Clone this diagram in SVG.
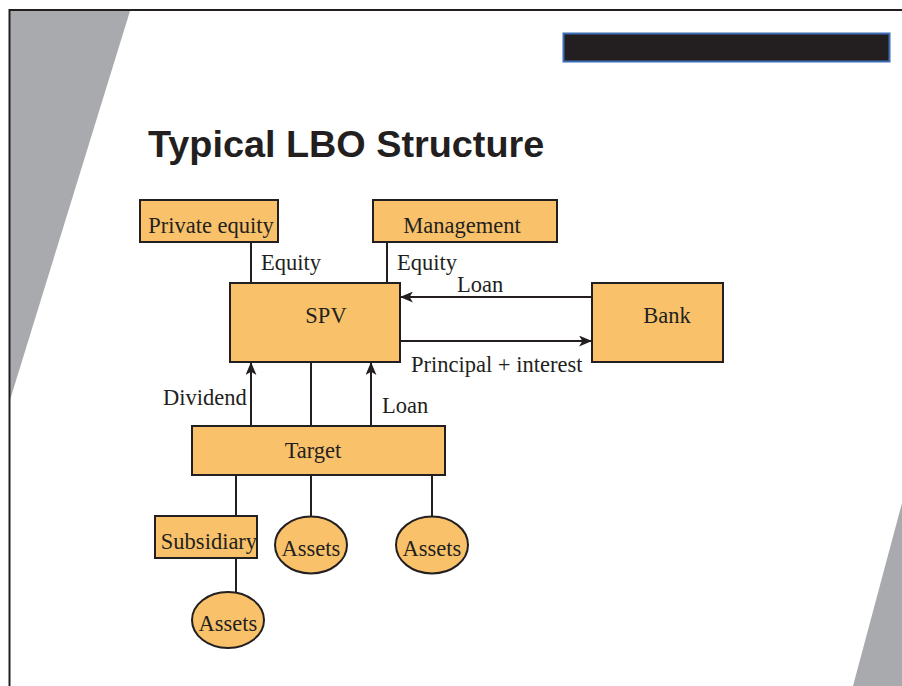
<svg xmlns="http://www.w3.org/2000/svg" width="902" height="686" viewBox="0 0 902 686">
<defs>
<marker id="ah" viewBox="0 0 12 10" refX="11" refY="5" markerWidth="13" markerHeight="11" markerUnits="userSpaceOnUse" orient="auto">
<path d="M0,0 L12,5 L0,10 L3,5 Z" fill="#231f20"/>
</marker>
</defs>
<style>
.box{fill:#f9c26a;stroke:#231f20;stroke-width:2}
.ln{stroke:#231f20;stroke-width:2;fill:none}
.t{font-family:"Liberation Serif",serif;font-size:22.5px;fill:#231f20}
.c{text-anchor:middle}
</style>
<rect x="0" y="0" width="902" height="686" fill="#ffffff"/>
<polygon points="10,11 130,11 10,400" fill="#a9aaad"/>
<polygon points="902,503 902,686 853,686" fill="#a9aaad"/>
<path d="M9.5,686 L9.5,10 L902,10" fill="none" stroke="#231f20" stroke-width="2"/>
<rect x="563.5" y="33.5" width="326" height="28" fill="#231f20" stroke="#3d6db5" stroke-width="2"/>
<text x="148" y="157" font-family="Liberation Sans,Arial,sans-serif" font-weight="bold" font-size="37.8" fill="#231f20">Typical LBO Structure</text>
<g id="connectors">
<line class="ln" x1="251" y1="242" x2="251" y2="283"/>
<line class="ln" x1="387" y1="242" x2="387" y2="283"/>
<line class="ln" x1="592" y1="297" x2="401" y2="297" marker-end="url(#ah)"/>
<line class="ln" x1="400" y1="341" x2="591" y2="341" marker-end="url(#ah)"/>
<line class="ln" x1="251" y1="426" x2="251" y2="363" marker-end="url(#ah)"/>
<line class="ln" x1="311" y1="426" x2="311" y2="362"/>
<line class="ln" x1="371" y1="426" x2="371" y2="363" marker-end="url(#ah)"/>
<line class="ln" x1="236" y1="475" x2="236" y2="516"/>
<line class="ln" x1="311" y1="475" x2="311" y2="516"/>
<line class="ln" x1="432" y1="475" x2="432" y2="516"/>
<line class="ln" x1="236" y1="558" x2="236" y2="592"/>
<text class="t" x="261" y="270">Equity</text>
<text class="t" x="397" y="270">Equity</text>
<text class="t" x="457" y="292">Loan</text>
<text class="t" x="411" y="372">Principal + interest</text>
<text class="t" x="163" y="405">Dividend</text>
<text class="t" x="382" y="413">Loan</text>
</g>
<g id="private-equity"><rect class="box" x="140" y="200" width="138" height="42"/><text class="t c" x="211" y="233">Private equity</text></g>
<g id="management"><rect class="box" x="373" y="200" width="184" height="42"/><text class="t c" x="462" y="233">Management</text></g>
<g id="spv"><rect class="box" x="230" y="283" width="170" height="79"/><text class="t c" x="326" y="323">SPV</text></g>
<g id="bank"><rect class="box" x="592" y="283" width="131" height="79"/><text class="t c" x="667" y="323">Bank</text></g>
<g id="target"><rect class="box" x="192" y="426" width="253" height="49"/><text class="t c" x="313" y="458">Target</text></g>
<g id="subsidiary"><rect class="box" x="155" y="516" width="102" height="42"/><text class="t c" x="209" y="549">Subsidiary</text></g>
<g id="assets1"><ellipse class="box" cx="311" cy="545" rx="36" ry="28.5"/><text class="t c" x="311" y="556">Assets</text></g>
<g id="assets2"><ellipse class="box" cx="432" cy="545" rx="36" ry="28.5"/><text class="t c" x="432" y="556">Assets</text></g>
<g id="assets3"><ellipse class="box" cx="228" cy="620" rx="36" ry="28"/><text class="t c" x="228" y="631">Assets</text></g>
</svg>
